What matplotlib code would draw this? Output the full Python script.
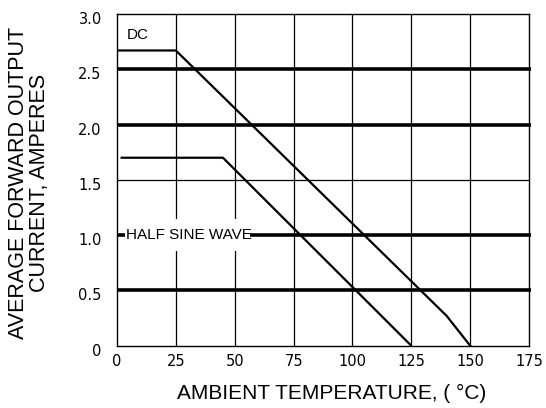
import numpy as np
import matplotlib
matplotlib.use("Agg")
import matplotlib.pyplot as plt
from matplotlib.patches import Rectangle
from matplotlib.transforms import ScaledTranslation

# derating curves
dc_temp = [0, 25, 140, 150]
dc_curr = [2.67, 2.67, 0.27, 0.0]
hs_temp = [1.5, 45, 125]
hs_curr = [1.70, 1.70, 0.0]

x_ticks = [0, 25, 50, 75, 100, 125, 150, 175]
y_ticks = [0, 0.5, 1.0, 1.5, 2.0, 2.5, 3.0]
y_tick_labels = ["0", "0.5", "1.0", "1.5", "2.0", "2.5", "3.0"]
thick_levels = [0.5, 1.0, 2.0, 2.5]   # heavy horizontal rules
thin_levels = [1.5]

plt.rcParams["font.family"] = ["Liberation Sans", "DejaVu Sans"]

fig = plt.figure(figsize=(5.46, 4.08), dpi=100)
ax = fig.add_axes([0.2143, 0.1527, 0.7546, 0.813])

ax.set_xlim(0, 175)
ax.set_ylim(0, 3.0)

# thin vertical grid
for t in x_ticks[1:-1]:
    ax.axvline(t, color="black", linewidth=0.9, zorder=1)
for v in thin_levels:
    ax.axhline(v, color="black", linewidth=0.9, zorder=1)
for v in thick_levels:
    ax.plot([0, 176], [v, v], color="black", linewidth=2.6, zorder=2,
            clip_on=False, solid_capstyle="butt")

ax.plot(dc_temp, dc_curr, color="black", linewidth=1.6, zorder=3)
ax.plot(hs_temp, hs_curr, color="black", linewidth=1.6, zorder=3,
        solid_capstyle="butt")

# white patch behind the curve label
ax.add_patch(Rectangle((3.5, 0.86), 53.0, 0.29, facecolor="white",
                       edgecolor="none", zorder=4))
ax.text(3.8, 1.0, "HALF SINE WAVE", fontsize=11, va="center", ha="left",
        zorder=5)
ax.text(4.2, 2.81, "DC", fontsize=11, va="center", ha="left", zorder=5)

ax.set_xticks(x_ticks)
ax.set_xticklabels([str(t) for t in x_ticks], family="DejaVu Sans",
                   fontsize=10.5)
ax.set_yticks(y_ticks)
ax.set_yticklabels(y_tick_labels, family="DejaVu Sans", fontsize=10.5)
ax.tick_params(axis="both", length=0)
ax.tick_params(axis="x", pad=6)
ax.tick_params(axis="y", pad=11)
for lab in ax.get_yticklabels():
    lab.set_transform(lab.get_transform() +
                      ScaledTranslation(0, -4 / 100, fig.dpi_scale_trans))

for sp in ax.spines.values():
    sp.set_linewidth(1.0)

ax.set_xlabel("AMBIENT TEMPERATURE, ( °C)", fontsize=15)
ax.xaxis.set_label_coords(0.52, -0.115)
ax.set_ylabel("AVERAGE FORWARD OUTPUT\nCURRENT, AMPERES", fontsize=15.5,
              linespacing=1.0)
ax.yaxis.set_label_coords(-0.163, 0.49)

fig.savefig("out.png", dpi=100)
